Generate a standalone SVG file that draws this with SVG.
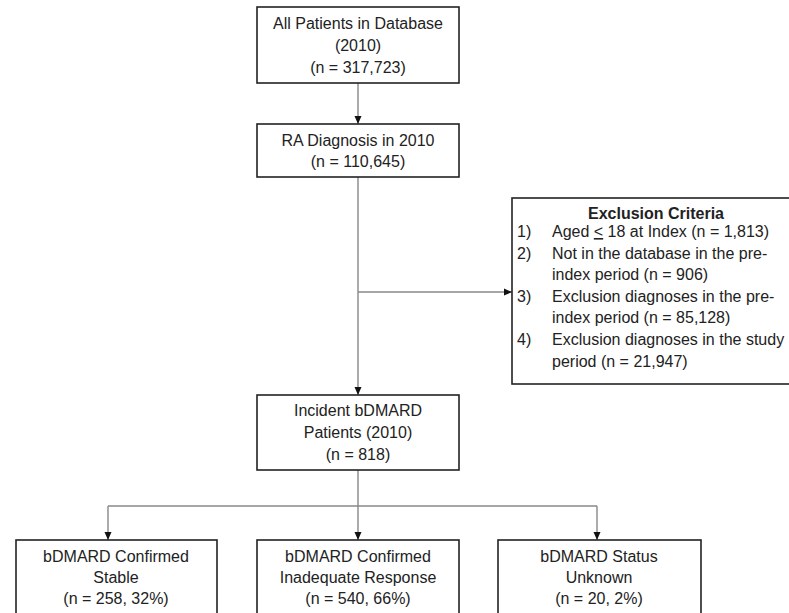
<svg xmlns="http://www.w3.org/2000/svg" width="789" height="613" viewBox="0 0 789 613">
<defs>
<style>
.box{fill:#fff;stroke:#222;stroke-width:1.6}
.t{font-family:"Liberation Sans",Arial,sans-serif;font-size:16px;fill:#222;text-anchor:middle}
.l{font-family:"Liberation Sans",Arial,sans-serif;font-size:16px;fill:#222}
.b{font-weight:bold}
.c{fill:none;stroke:#888;stroke-width:1.4}
</style>
<marker id="ah" markerUnits="userSpaceOnUse" markerWidth="8" markerHeight="8" viewBox="0 0 8 8" refX="8" refY="4" orient="auto">
<path d="M0,0.5 L8,4 L0,7.5 Z" fill="#111"/>
</marker>
</defs>
<rect width="789" height="613" fill="#fff"/>
<g id="connectors">
<line class="c" x1="358" y1="83" x2="358" y2="124" marker-end="url(#ah)"/>
<line class="c" x1="358" y1="177" x2="358" y2="395" marker-end="url(#ah)"/>
<line class="c" x1="358" y1="292" x2="512" y2="292" marker-end="url(#ah)"/>
<line class="c" x1="358" y1="470" x2="358" y2="540" marker-end="url(#ah)"/>
<line class="c" x1="108" y1="506" x2="597" y2="506"/>
<line class="c" x1="108" y1="506" x2="108" y2="540" marker-end="url(#ah)"/>
<line class="c" x1="597" y1="506" x2="597" y2="540" marker-end="url(#ah)"/>
</g>
<g id="n1">
<rect class="box" x="257" y="7" width="202" height="76"/>
<text class="t" x="358" y="29">All Patients in Database</text>
<text class="t" x="358" y="51">(2010)</text>
<text class="t" x="358" y="73">(n = 317,723)</text>
</g>
<g id="n2">
<rect class="box" x="257" y="124" width="202" height="53"/>
<text class="t" x="358" y="146">RA Diagnosis in 2010</text>
<text class="t" x="358" y="167">(n = 110,645)</text>
</g>
<g id="n-excl">
<rect class="box" x="512" y="198" width="300" height="186"/>
<text class="t b" x="656" y="219">Exclusion Criteria</text>
<text class="l" x="517" y="237">1)</text>
<text class="l" x="552" y="237">Aged <tspan text-decoration="underline">&lt;</tspan> 18 at Index (n = 1,813)</text>
<text class="l" x="517" y="259">2)</text>
<text class="l" x="552" y="259">Not in the database in the pre-</text>
<text class="l" x="552" y="280">index period (n = 906)</text>
<text class="l" x="517" y="302">3)</text>
<text class="l" x="552" y="302">Exclusion diagnoses in the pre-</text>
<text class="l" x="552" y="323">index period (n = 85,128)</text>
<text class="l" x="517" y="345">4)</text>
<text class="l" x="552" y="345">Exclusion diagnoses in the study</text>
<text class="l" x="552" y="367">period (n = 21,947)</text>
</g>
<g id="n3">
<rect class="box" x="257" y="395" width="202" height="75"/>
<text class="t" x="358" y="416">Incident bDMARD</text>
<text class="t" x="358" y="438">Patients (2010)</text>
<text class="t" x="358" y="460">(n = 818)</text>
</g>
<g id="n4">
<rect class="box" x="16" y="540" width="201" height="90"/>
<text class="t" x="116" y="562">bDMARD Confirmed</text>
<text class="t" x="116" y="583">Stable</text>
<text class="t" x="116" y="604">(n = 258, 32%)</text>
</g>
<g id="n5">
<rect class="box" x="257" y="540" width="202" height="90"/>
<text class="t" x="358" y="562">bDMARD Confirmed</text>
<text class="t" x="358" y="583">Inadequate Response</text>
<text class="t" x="358" y="604">(n = 540, 66%)</text>
</g>
<g id="n6">
<rect class="box" x="498" y="540" width="203" height="90"/>
<text class="t" x="599" y="562">bDMARD Status</text>
<text class="t" x="599" y="583">Unknown</text>
<text class="t" x="599" y="604">(n = 20, 2%)</text>
</g>
</svg>
